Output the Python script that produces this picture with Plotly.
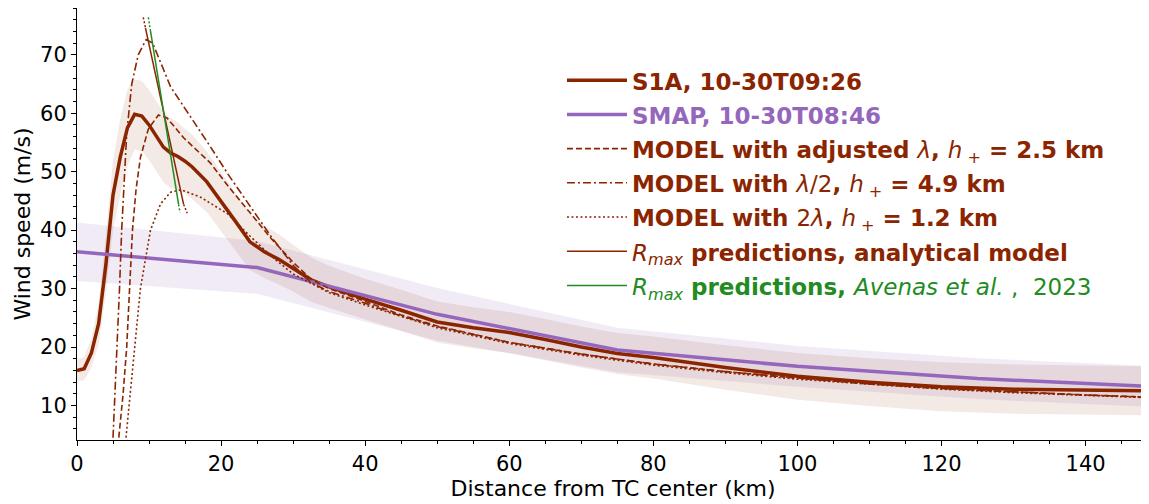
import plotly.graph_objects as go

# S1A wind profile (km, m/s) and its spread
dist_s1a = [0, 1, 2, 3, 4, 5, 6, 7, 8, 9, 10, 11, 12, 13, 14, 15, 16, 18, 20, 22, 24, 26, 28, 30, 32.5, 35,
            40, 45, 50, 55, 60, 65, 70, 75, 80, 90, 100, 110, 120, 130, 140, 149.5]
s1a = [16, 16.3, 19, 24, 34, 46, 52.5, 57.5, 59.8, 59.5, 58, 56, 54.2, 53.2, 52.6, 51.8, 50.8, 48.3, 45, 41.5,
       38, 36.3, 35, 33.5, 31.5, 30.3, 28.2, 26.3, 24.3, 23.3, 22.5, 21.3, 20, 18.9, 18.2, 16.5, 15, 14,
       13.2, 12.8, 12.7, 12.5]
s1a_std = [1.8, 2, 2.5, 3.5, 5, 6, 6.5, 6.5, 6, 6, 6, 6, 6, 6, 5.8, 5.5, 5.5, 5.2, 5, 5, 4.8, 4.5, 4.3, 4,
           3.8, 3.6, 3.5, 3.5, 3.5, 3.5, 3.5, 3.5, 3.5, 3.5, 3.6, 3.8, 4, 4.1, 4.2, 4.2, 4.2, 4.2]

# SMAP profile
dist_smap = [0, 25, 50, 75, 100, 125, 150]
smap = [36.3, 33.6, 25.6, 19.5, 16.7, 14.6, 13.2]
smap_std = [5, 4.5, 4.5, 3.8, 3.5, 3.5, 3.5]

# model profiles
dist_adj = [5.8, 6.4, 6.9, 7.3, 7.7, 8.2, 8.8, 9.9, 11.3, 12.5, 14.8, 18.5, 21, 24, 27, 30, 32.5, 35, 38, 40,
            45, 50, 60, 70, 80, 90, 100, 110, 120, 130, 140, 149.5]
model_adj = [4.5, 12, 20, 30, 40, 47, 52.4, 57.3, 59.7, 59.2, 55.8, 51.5, 47.5, 43, 38.5, 34.5, 31.6, 30, 28.7,
             27.8, 25.5, 23.6, 20.8, 18.8, 17.1, 15.8, 14.7, 13.7, 12.9, 12.3, 11.8, 11.4]
dist_half = [5.0, 5.6, 5.9, 6.2, 6.9, 7.6, 8.5, 9.6, 10.5, 13, 16.7, 18.5, 21, 24, 27, 30, 32.5, 35, 40, 45,
             50, 60, 70, 80, 90, 100, 110, 120, 130, 140, 149.5]
model_half = [4.5, 20, 30, 40, 56.5, 65, 70, 72.6, 72, 64.5, 57.7, 54.3, 49.5, 44.2, 38.8, 34, 31, 29.5, 27.5,
              25.3, 23.5, 20.8, 18.8, 17.1, 15.8, 14.7, 13.7, 12.9, 12.3, 11.8, 11.4]
dist_double = [6.8, 7.4, 7.95, 8.8, 10.2, 11.6, 13, 14.5, 17.2, 20.9, 24, 27, 30, 35, 40, 45, 50, 60, 70, 80,
               90, 100, 110, 120, 130, 140, 149.5]
model_double = [4.5, 12, 20, 30, 40, 44.5, 46.5, 46.9, 45.6, 42.8, 39, 35.5, 32.5, 29.3, 27.2, 25.2, 23.3,
                20.6, 18.6, 16.9, 15.6, 14.5, 13.6, 12.8, 12.2, 11.7, 11.3]

# Rmax predictions: solid part and dotted ends
rmax_ana_x = [9.5, 14.8]
rmax_ana_y = [74.6, 44.4]
rmax_ana_ext_x = [9.2, 9.5, None, 14.8, 15.3]
rmax_ana_ext_y = [76.4, 74.6, None, 44.4, 42.9]
rmax_av_x = [10.2, 14.1]
rmax_av_y = [74.1, 44.4]
rmax_av_ext_x = [9.9, 10.2, None, 14.1, 14.3]
rmax_av_ext_y = [76.4, 74.1, None, 44.4, 43.0]

brown = "#8b2500"
purple = "#9467bd"
green = "#228b22"
SP = "\u00a0"


def lbl(txt, col):
    return '<span style="color:%s;font-size:23px">%s</span>' % (col, txt)


def band(x, y, s, col):
    up = [a + b for a, b in zip(y, s)]
    lo = [a - b for a, b in zip(y, s)]
    return go.Scatter(x=x + x[::-1], y=up + lo[::-1], mode="lines", fill="toself", fillcolor=col,
                      line=dict(width=0), hoverinfo="skip", showlegend=False)


fig = go.Figure()
fig.add_trace(band(dist_smap, smap, smap_std, "rgba(148,103,189,0.13)"))
fig.add_trace(band(dist_s1a, s1a, s1a_std, "rgba(139,37,0,0.1)"))

fig.add_trace(go.Scatter(x=dist_s1a, y=s1a, mode="lines", line=dict(color=brown, width=3.5),
                         name=lbl("<b>S1A, 10-30T09:26</b>", brown)))
fig.add_trace(go.Scatter(x=dist_smap, y=smap, mode="lines", line=dict(color=purple, width=3.5),
                         name=lbl("<b>SMAP, 10-30T08:46</b>", purple)))
fig.add_trace(go.Scatter(x=dist_adj, y=model_adj, mode="lines",
                         line=dict(color=brown, width=1.6, dash="6px,3px"),
                         name=lbl("<b>MODEL with adjusted </b><i>λ</i><b>, </b><i>h</i><sub>" + SP + "+</sub><b> = 2.5 km</b>", brown)))
fig.add_trace(go.Scatter(x=dist_half, y=model_half, mode="lines",
                         line=dict(color=brown, width=1.6, dash="8px,3px,2px,3px"),
                         name=lbl("<b>MODEL with </b><i>λ</i>/2<b>, </b><i>h</i><sub>" + SP + "+</sub><b> = 4.9 km</b>", brown)))
fig.add_trace(go.Scatter(x=dist_double, y=model_double, mode="lines",
                         line=dict(color=brown, width=1.6, dash="2px,2.5px"),
                         name=lbl("<b>MODEL with </b>2<i>λ</i><b>, </b><i>h</i><sub>" + SP + "+</sub><b> = 1.2 km</b>", brown)))
fig.add_trace(go.Scatter(x=rmax_ana_x, y=rmax_ana_y, mode="lines", line=dict(color=brown, width=1.5),
                         name=lbl("<i>R</i><sub><i>max</i></sub><b> predictions, analytical model</b>", brown)))
fig.add_trace(go.Scatter(x=rmax_av_x, y=rmax_av_y, mode="lines", line=dict(color=green, width=1.5),
                         name=lbl("<i>R</i><sub><i>max</i></sub><b> predictions, </b><i>Avenas et al.</i> ,  2023", green)))
fig.add_trace(go.Scatter(x=rmax_ana_ext_x, y=rmax_ana_ext_y, mode="lines", showlegend=False,
                         line=dict(color=brown, width=1.5, dash="2px,2px")))
fig.add_trace(go.Scatter(x=rmax_av_ext_x, y=rmax_av_ext_y, mode="lines", showlegend=False,
                         line=dict(color=green, width=1.5, dash="2px,2px")))

axis_common = dict(showgrid=False, zeroline=False, showline=True, linecolor="black", linewidth=1,
                   ticks="outside", ticklen=5, tickcolor="black", automargin=False,
                   tickfont=dict(family="DejaVu Sans", size=21, color="black"))
fig.update_xaxes(range=[0, 148.8], tick0=0, dtick=20,
                 minor=dict(dtick=5, ticks="outside", ticklen=3, tickcolor="black"),
                 title=dict(text="Distance from TC center (km)", standoff=3,
                            font=dict(family="DejaVu Sans", size=22, color="black")), **axis_common)
fig.update_yaxes(range=[4.1, 78.0], tick0=10, dtick=10,
                 minor=dict(dtick=2, ticks="outside", ticklen=3, tickcolor="black"),
                 title=dict(text="Wind speed (m/s)", standoff=3,
                            font=dict(family="DejaVu Sans", size=22, color="black")), **axis_common)

# the page body adds an 8px offset, so the figure is drawn 8px smaller
fig.update_layout(
    width=1141, height=496,
    margin=dict(l=69, r=0, t=0, b=64),
    plot_bgcolor="white", paper_bgcolor="white",
    font=dict(family="DejaVu Sans", color="black"),
    legend=dict(x=0.4524, y=0.884, xanchor="left", yanchor="top", bgcolor="rgba(0,0,0,0)",
                font=dict(family="DejaVu Sans", size=24), itemwidth=60, tracegroupgap=0),
)

fig.write_html("out.html")
